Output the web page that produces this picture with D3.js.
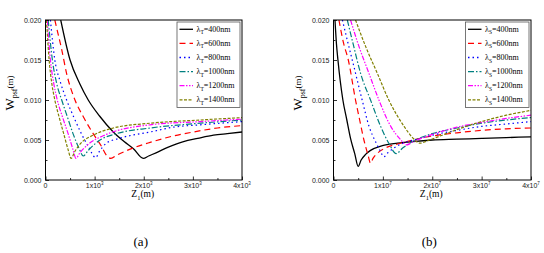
<!DOCTYPE html>
<html>
<head>
<meta charset="utf-8">
<script src="https://cdn.jsdelivr.net/npm/d3@7"></script>
<style>
  body { margin: 0; background: #fff; }
  svg { display: block; }
  .tick-label { font-family: "Liberation Sans", Arial, sans-serif; font-size: 7px; fill: #222; }
  .serif { font-family: "Liberation Serif", "Times New Roman", serif; fill: #000; }
</style>
</head>
<body>
<svg id="chart" width="544" height="253"></svg>
<script>
// x ticks (units of 10^3 m in (a), 10^7 m in (b))
var xTicks = [0, 1, 2, 3, 4];
var xMinor = [0.5, 1.5, 2.5, 3.5];
var yTicks = [0, 0.005, 0.01, 0.015, 0.02];
var yMinor = [0.0025, 0.0075, 0.0125, 0.0175];
var yTickLabels = ["0.000", "0.005", "0.010", "0.015", "0.020"];
var wavelengths = ["400nm", "600nm", "800nm", "1000nm", "1200nm", "1400nm"];
var colors = ["#000000", "#ff0000", "#0000ff", "#008080", "#ff00ff", "#808000"];
var dashes = [null, "6,4", "1.5,3", "6,2,1.5,2", "5,1.5,1.5,1.5,1.5,1.5", "3,1.5"];

// panel (a): lambda_T series, x in 10^3 m
var a400 = [[0.31,0.020],[0.50,0.015],[0.70,0.012],[0.87,0.010],[1.10,0.0080],[1.38,0.0060],[1.60,0.0048],[1.79,0.0039],[1.99,0.0027],[2.10,0.0030],[2.25,0.0034],[2.50,0.0041],[2.81,0.0048],[3.10,0.0052],[3.42,0.0056],[3.70,0.0058],[4.00,0.0060]];
var a600 = [[0.19,0.020],[0.22,0.0192],[0.33,0.0163],[0.43,0.0133],[0.60,0.010],[0.77,0.0079],[0.97,0.0058],[1.14,0.0042],[1.24,0.0031],[1.33,0.0027],[1.45,0.0031],[1.70,0.0038],[2.13,0.0047],[2.60,0.0055],[3.01,0.0060],[3.50,0.0065],[4.00,0.0068]];
var a800 = [[0.10,0.020],[0.19,0.015],[0.30,0.0123],[0.43,0.010],[0.58,0.0078],[0.73,0.0058],[0.88,0.0041],[1.02,0.0028],[1.10,0.0036],[1.24,0.0046],[1.50,0.0052],[2.13,0.0060],[2.60,0.0066],[3.15,0.0069],[4.00,0.0073]];
var a1000 = [[0.055,0.020],[0.14,0.015],[0.23,0.012],[0.33,0.010],[0.45,0.0078],[0.56,0.0058],[0.68,0.0040],[0.77,0.0030],[0.87,0.0037],[1.11,0.0050],[1.45,0.0058],[2.13,0.0065],[3.15,0.0071],[4.00,0.0075]];
var a1200 = [[0.035,0.020],[0.10,0.015],[0.17,0.012],[0.24,0.010],[0.35,0.0078],[0.46,0.0058],[0.56,0.0038],[0.62,0.0027],[0.70,0.0034],[0.84,0.0043],[1.24,0.0057],[2.13,0.0069],[3.15,0.0073],[4.00,0.0076]];
var a1400 = [[0.02,0.020],[0.074,0.015],[0.13,0.012],[0.19,0.010],[0.28,0.0078],[0.37,0.0058],[0.46,0.0038],[0.52,0.0027],[0.60,0.0036],[0.72,0.0046],[0.97,0.0056],[1.38,0.0065],[2.13,0.0071],[3.15,0.0075],[4.00,0.0078]];

// panel (b): lambda_S series, x in 10^7 m
var b400 = [[0.03,0.020],[0.06,0.017],[0.09,0.015],[0.19,0.010],[0.27,0.0075],[0.345,0.0052],[0.43,0.0033],[0.50,0.0017],[0.56,0.0025],[0.65,0.0032],[0.75,0.0037],[0.99,0.0043],[1.30,0.0046],[1.60,0.0048],[2.00,0.0050],[2.50,0.0051],[3.00,0.0052],[3.50,0.0053],[4.00,0.0054]];
var b600 = [[0.11,0.020],[0.20,0.0172],[0.30,0.015],[0.446,0.010],[0.53,0.0075],[0.616,0.0050],[0.70,0.0031],[0.75,0.0021],[0.80,0.0027],[0.90,0.0034],[1.05,0.0040],[1.30,0.0045],[1.60,0.0050],[2.00,0.0055],[2.50,0.0059],[3.00,0.0062],[3.50,0.0064],[4.00,0.0065]];
var b800 = [[0.18,0.020],[0.31,0.0167],[0.38,0.015],[0.58,0.010],[0.72,0.0067],[0.85,0.0048],[0.95,0.0036],[1.02,0.0029],[1.10,0.0034],[1.25,0.0041],[1.45,0.0047],[1.70,0.0051],[2.00,0.0056],[2.50,0.0062],[3.00,0.0067],[3.50,0.0070],[4.00,0.0073]];
var b1000 = [[0.28,0.020],[0.41,0.0167],[0.55,0.0133],[0.75,0.010],[0.955,0.0067],[1.12,0.0046],[1.27,0.0033],[1.40,0.0040],[1.60,0.0048],[2.00,0.0058],[2.50,0.0065],[3.00,0.0071],[3.50,0.0075],[4.00,0.0078]];
var b1200 = [[0.345,0.020],[0.515,0.0167],[0.72,0.0133],[0.92,0.010],[1.16,0.0067],[1.35,0.0051],[1.48,0.0044],[1.62,0.0048],[2.00,0.0057],[2.50,0.0066],[3.00,0.0072],[3.50,0.0077],[4.00,0.0081]];
var b1400 = [[0.446,0.020],[0.65,0.0167],[0.89,0.0133],[1.12,0.010],[1.43,0.0067],[1.60,0.0053],[1.75,0.0046],[1.90,0.0049],[2.20,0.0056],[2.50,0.0063],[3.00,0.0073],[3.50,0.0081],[4.00,0.0087]];

var svg = d3.select("#chart");

function drawPanel(opts) {
	var g = svg.append("g");
	var x = d3.scaleLinear().domain([0, 4]).range([opts.left, opts.right]);
	var y = d3.scaleLinear().domain([0, 0.02]).range([180, 20]);

	// clip
	var clipId = "clip-" + opts.name;
	svg.append("clipPath").attr("id", clipId)
		.append("rect").attr("x", opts.left).attr("y", 20)
		.attr("width", opts.right - opts.left).attr("height", 160);

	// curves
	var line = d3.line()
		.x(function (d) { return x(d[0]); })
		.y(function (d) { return y(d[1]); })
		.curve(d3.curveMonotoneX);

	var curves = g.append("g").attr("clip-path", "url(#" + clipId + ")");
	opts.series.forEach(function (s, i) {
		curves.append("path")
			.attr("d", line(s))
			.attr("fill", "none")
			.attr("stroke", colors[i])
			.attr("stroke-width", i === 0 ? 1.3 : 1.2)
			.attr("stroke-dasharray", dashes[i]);
	});

	// axes (inward ticks)
	var xAxis = d3.axisBottom(x).tickValues(xTicks).tickSize(-3.5).tickFormat("");
	var xAxisMinor = d3.axisBottom(x).tickValues(xMinor).tickSize(-2).tickFormat("");
	var yAxis = d3.axisLeft(y).tickValues(yTicks).tickSize(-3.5).tickFormat("");
	var yAxisMinor = d3.axisLeft(y).tickValues(yMinor).tickSize(-2).tickFormat("");

	[ [xAxis, "translate(0,180)"], [xAxisMinor, "translate(0,180)"],
	  [yAxis, "translate(" + opts.left + ",0)"], [yAxisMinor, "translate(" + opts.left + ",0)"] ]
	.forEach(function (a) {
		var ag = g.append("g").attr("transform", a[1]).call(a[0]);
		ag.select(".domain").remove();
		ag.selectAll("line").attr("stroke", "#000").attr("stroke-width", 0.8);
	});

	// frame
	g.append("rect")
		.attr("x", opts.left).attr("y", 20)
		.attr("width", opts.right - opts.left).attr("height", 160)
		.attr("fill", "none").attr("stroke", "#000").attr("stroke-width", 1);

	// tick labels
	g.selectAll(".ylab").data(yTicks).enter().append("text")
		.attr("class", "tick-label")
		.attr("x", opts.left - 4)
		.attr("y", function (d) { return y(d) + 2.5; })
		.attr("text-anchor", "end")
		.text(function (d, i) { return yTickLabels[i]; });

	xTicks.forEach(function (t) {
		var txt = g.append("text").attr("class", "tick-label")
			.attr("x", x(t)).attr("y", 188).attr("text-anchor", "middle");
		if (t === 0) {
			txt.text("0");
		} else {
			txt.append("tspan").text(t + "x10");
			txt.append("tspan").attr("dy", -3).attr("font-size", "4.5px").text(opts.exp);
		}
	});

	// x axis label
	var cx = (opts.left + opts.right) / 2;
	var xl = g.append("text").attr("class", "serif")
		.attr("x", cx - 1).attr("y", 197).attr("text-anchor", "middle").attr("font-size", "9.5px");
	xl.append("tspan").text("Z");
	xl.append("tspan").attr("dy", 3).attr("font-size", "6.5px").text("1");
	xl.append("tspan").attr("dy", -3).text("(m)");

	// y axis label
	var yl = g.append("text").attr("class", "serif")
		.attr("transform", "translate(" + (opts.left - 32) + ",93) rotate(-90)")
		.attr("text-anchor", "middle").attr("font-size", "13px");
	yl.append("tspan").text("W");
	yl.append("tspan").attr("dy", 3).attr("font-size", "8px").text("psf");
	yl.append("tspan").attr("dy", -4).attr("font-size", "9px").text("(m)");

	// caption
	g.append("text").attr("class", "serif")
		.attr("x", cx - 3).attr("y", 246).attr("text-anchor", "middle")
		.attr("font-size", "13px").text(opts.caption);

	// legend
	var lg = g.append("g");
	lg.append("rect")
		.attr("x", opts.legendX).attr("y", 22)
		.attr("width", opts.right - 2 - opts.legendX).attr("height", 85.5)
		.attr("fill", "#fff").attr("stroke", "#555").attr("stroke-width", 0.8);
	wavelengths.forEach(function (w, i) {
		var ly = 29.3 + i * 14.1;
		lg.append("line")
			.attr("x1", opts.legendX + 2.5).attr("x2", opts.legendX + 16)
			.attr("y1", ly).attr("y2", ly)
			.attr("stroke", colors[i]).attr("stroke-width", 1.3)
			.attr("stroke-dasharray", dashes[i]);
		var t = lg.append("text").attr("class", "serif")
			.attr("x", opts.legendX + 19.5).attr("y", ly + 2.5).attr("font-size", "8px");
		t.append("tspan").text("\u03bb");
		t.append("tspan").attr("dy", 2.5).attr("font-size", "5.5px").text(opts.sub);
		t.append("tspan").attr("dy", -2.5).text("=" + w);
	});
}

drawPanel({
	name: "a", left: 45.5, right: 242, exp: "3", sub: "T", caption: "(a)", legendX: 177,
	series: [a400, a600, a800, a1000, a1200, a1400]
});
drawPanel({
	name: "b", left: 333.5, right: 531, exp: "7", sub: "S", caption: "(b)", legendX: 465.5,
	series: [b400, b600, b800, b1000, b1200, b1400]
});
</script>
</body>
</html>
